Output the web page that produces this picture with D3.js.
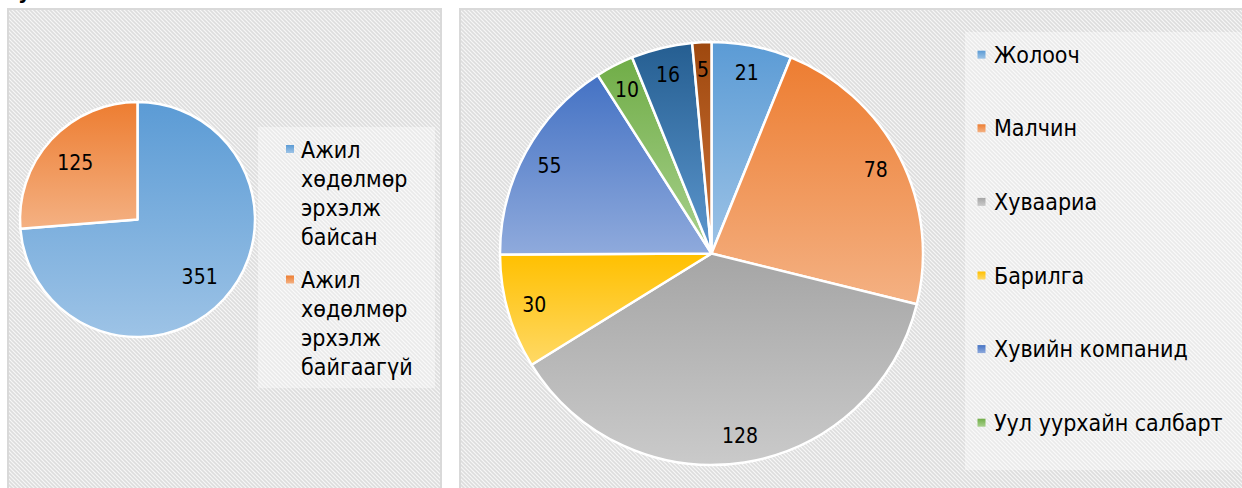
<!DOCTYPE html>
<html>
<head>
<meta charset="utf-8">
<script src="https://cdn.jsdelivr.net/npm/d3@7"></script>
<style>
  html, body { margin: 0; padding: 0; background: #ffffff; }
  svg { display: block; }
  text { font-family: "DejaVu Sans Condensed", "DejaVu Sans", sans-serif; fill: #000; }
</style>
</head>
<body>
<svg id="chart" width="1242" height="488"></svg>
<script>
// ---- data ----
const leftCategories = ["Ажил хөдөлмөр эрхэлж байсан", "Ажил хөдөлмөр эрхэлж байгаагүй"];
const leftLegendLines = [["Ажил", "хөдөлмөр", "эрхэлж", "байсан"], ["Ажил", "хөдөлмөр", "эрхэлж", "байгаагүй"]];
const leftValues = [351, 125];

const rightCategories = ["Жолооч", "Малчин", "Хуваариа", "Барилга", "Хувийн компанид", "Уул уурхайн салбарт", "", ""];
const rightValues = [21, 78, 128, 30, 55, 10, 16, 5];

// ---- styles ----
const leftTop = ["#5B9BD5", "#ED7D31"];
const leftBottom = ["#9DC3E6", "#F4B183"];
const rightTop = ["#5B9BD5", "#ED7D31", "#A5A5A5", "#FFC000", "#4472C4", "#70AD47", "#255E91", "#9E480E"];
const rightBottom = ["#9DC3E6", "#F4B183", "#CACACA", "#FFD966", "#8FAADC", "#A9D18E", "#5E98CF", "#CF7439"];

const svg = d3.select("#chart");
const defs = svg.append("defs");

// hatch pattern
const pat = defs.append("pattern").attr("id", "hatch").attr("patternUnits", "userSpaceOnUse")
  .attr("width", 4).attr("height", 4);
pat.append("rect").attr("width", 4).attr("height", 4).attr("fill", "#f7f7f7");
pat.append("path").attr("d", "M-1,-1 L5,5 M-1,3 L1,5 M3,-1 L5,1")
  .attr("stroke", "#dddddd").attr("stroke-width", 1.6);

function grad(id, top, bottom) {
  const g = defs.append("linearGradient").attr("id", id)
    .attr("x1", 0).attr("y1", 0).attr("x2", 0).attr("y2", 1);
  g.append("stop").attr("offset", "0%").attr("stop-color", top);
  g.append("stop").attr("offset", "100%").attr("stop-color", bottom);
}
leftTop.forEach((c, i) => grad("lg" + i, c, leftBottom[i]));
rightTop.forEach((c, i) => grad("rg" + i, c, rightBottom[i]));

// cut-off title glyph at very top (as in the reference)
svg.append("text").attr("x", 18).attr("y", -1).style("font-size", "22px").style("font-weight", "bold").text("у");

// panels
svg.append("rect").attr("x", 8).attr("y", 9).attr("width", 433).attr("height", 500)
  .attr("fill", "url(#hatch)").attr("stroke", "#d9d9d9").attr("stroke-width", 2);
svg.append("rect").attr("x", 460).attr("y", 9).attr("width", 800).attr("height", 500)
  .attr("fill", "url(#hatch)").attr("stroke", "#d9d9d9").attr("stroke-width", 2);

// legend light boxes
svg.append("rect").attr("x", 258).attr("y", 127).attr("width", 177).attr("height", 261)
  .attr("fill", "#ffffff").attr("opacity", 0.4);
svg.append("rect").attr("x", 965).attr("y", 32).attr("width", 277).attr("height", 438)
  .attr("fill", "#ffffff").attr("opacity", 0.4);

const pie = d3.pie().sort(null).value(d => d);

// ---- left pie ----
const L = { cx: 137.5, cy: 219.5, r: 117.5 };
const lArc = d3.arc().innerRadius(0).outerRadius(L.r);
const lLab = d3.arc().innerRadius(L.r * 0.72).outerRadius(L.r * 0.72);
const lg = svg.append("g").attr("transform", `translate(${L.cx},${L.cy})`);
const lArcs = pie(leftValues);
lg.selectAll("path").data(lArcs).join("path")
  .attr("d", lArc).attr("fill", (d, i) => `url(#lg${i})`)
  .attr("stroke", "#ffffff").attr("stroke-width", 2.5).attr("stroke-linejoin", "round");
lg.selectAll("text").data(lArcs).join("text")
  .attr("transform", d => `translate(${lLab.centroid(d)})`)
  .attr("text-anchor", "middle").attr("dy", "0.36em")
  .style("font-size", "21px").text(d => d.data);

// left legend
const llg = svg.append("g");
const lBase = [157.5, 288];
leftLegendLines.forEach((lines, i) => {
  llg.append("rect").attr("x", 286).attr("y", lBase[i] - 12.5).attr("width", 8).attr("height", 8)
    .attr("fill", `url(#lg${i})`);
  const t = llg.append("text").attr("x", 301).attr("y", lBase[i]).style("font-size", "23px");
  lines.forEach((ln, j) => t.append("tspan").attr("x", 301).attr("y", lBase[i] + j * 29).text(ln));
});

// ---- right pie ----
const R = { cx: 711.5, cy: 253.5, r: 211.5 };
const rArc = d3.arc().innerRadius(0).outerRadius(R.r);
const rLab = d3.arc().innerRadius(R.r * 0.872).outerRadius(R.r * 0.872);
const rg = svg.append("g").attr("transform", `translate(${R.cx},${R.cy})`);
const rArcs = pie(rightValues);
rg.selectAll("path").data(rArcs).join("path")
  .attr("d", rArc).attr("fill", (d, i) => `url(#rg${i})`)
  .attr("stroke", "#ffffff").attr("stroke-width", 2.5).attr("stroke-linejoin", "round");
rg.selectAll("text").data(rArcs).join("text")
  .attr("transform", d => `translate(${rLab.centroid(d)})`)
  .attr("text-anchor", "middle").attr("dy", "0.36em")
  .style("font-size", "21px").text(d => d.data);

// right legend (only the items that fit)
const rlg = svg.append("g");
rightCategories.forEach((name, i) => {
  if (!name) return;
  const base = 62.7 + i * 73.6;
  rlg.append("rect").attr("x", 977.5).attr("y", base - 12).attr("width", 8).attr("height", 8)
    .attr("fill", `url(#rg${i})`);
  rlg.append("text").attr("x", 994).attr("y", base).style("font-size", "23px").text(name);
});
</script>
</body>
</html>
